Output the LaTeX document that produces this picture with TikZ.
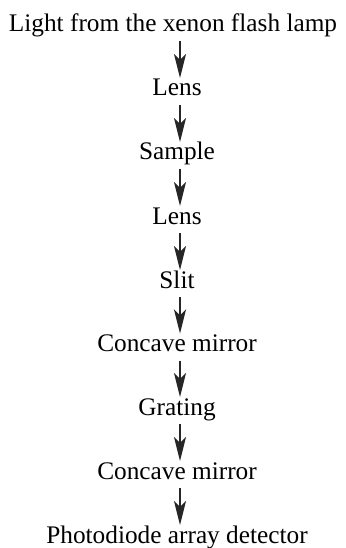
\documentclass[tikz,border=0pt]{standalone}
\usepackage{fontspec}
\setmainfont{Liberation Serif}
\usetikzlibrary{arrows.meta}
\begin{document}
\begin{tikzpicture}[x=1pt,y=-1pt,
  lbl/.style={inner sep=0pt, outer sep=0pt, anchor=base, font=\fontsize{25.3}{30}\selectfont, text height=17pt, text depth=6pt},
  flow/.style={draw=black!85, fill=black, line width=1.6pt, -{Stealth[length=24pt,width=12pt,inset=6pt]}, shorten <=3pt, shorten >=1pt}]
\useasboundingbox (0,0) rectangle (345,548);
\node[lbl] (n0) at (173,32) {Light from the xenon flash lamp};
\node[lbl] (n1) at (177,96) {Lens};
\node[lbl] (n2) at (177,160) {Sample};
\node[lbl] (n3) at (177,224) {Lens};
\node[lbl] (n4) at (177,288) {Slit};
\node[lbl] (n5) at (177,351.5) {Concave mirror};
\node[lbl] (n6) at (177,415) {Grating};
\node[lbl] (n7) at (177,479) {Concave mirror};
\node[lbl] (n8) at (177,543) {Photodiode array detector};
\draw[flow] ([xshift=7pt]n0.south) -- ([xshift=3pt]n1.north);
\draw[flow] ([xshift=3pt]n1.south) -- ([xshift=3pt]n2.north);
\draw[flow] ([xshift=3pt]n2.south) -- ([xshift=3pt]n3.north);
\draw[flow] ([xshift=3pt]n3.south) -- ([xshift=3pt]n4.north);
\draw[flow] ([xshift=3pt]n4.south) -- ([xshift=3pt]n5.north);
\draw[flow] ([xshift=3pt]n5.south) -- ([xshift=3pt]n6.north);
\draw[flow] ([xshift=3pt]n6.south) -- ([xshift=3pt]n7.north);
\draw[flow] ([xshift=3pt]n7.south) -- ([xshift=3pt]n8.north);
\end{tikzpicture}
\end{document}
